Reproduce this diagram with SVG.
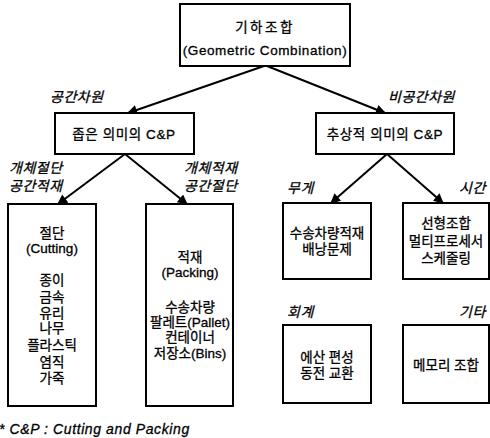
<svg xmlns="http://www.w3.org/2000/svg" width="490" height="438" viewBox="0 0 490 438">
<defs>
<style>
.box{fill:#fff;stroke:#000;stroke-width:2}
.t{font-family:"Liberation Sans","Noto Sans CJK KR",sans-serif;font-size:13.5px;fill:#000;stroke:#000;stroke-width:0.3;text-anchor:middle}
.l{font-family:"Liberation Sans","Noto Sans CJK KR",sans-serif;font-size:14px;fill:#000;stroke:#000;stroke-width:0.3;font-style:italic;letter-spacing:0.5px}
.c{stroke:#000;stroke-width:2;fill:none;marker-end:url(#ah)}
</style>
<marker id="ah" viewBox="0 0 10 10" refX="9" refY="5" markerWidth="5.5" markerHeight="5" markerUnits="strokeWidth" orient="auto">
<path d="M0,0 L10,5 L0,10 z" fill="#000"/>
</marker>
</defs>
<rect width="490" height="438" fill="#fff"/>
<g id="connectors">
<line class="c" x1="264" y1="66" x2="128" y2="113"/>
<line class="c" x1="267" y1="66" x2="385" y2="113"/>
<line class="c" x1="125" y1="154" x2="58" y2="204"/>
<line class="c" x1="125" y1="154" x2="187" y2="204"/>
<line class="c" x1="387" y1="154" x2="331" y2="203"/>
<line class="c" x1="387" y1="154" x2="443" y2="203"/>
</g>
<g id="labels">
<text class="l" x="50" y="102">공간차원</text>
<text class="l" x="388" y="102">비공간차원</text>
<text class="l" x="9" y="173">개체절단</text>
<text class="l" x="9" y="191">공간적재</text>
<text class="l" x="184" y="173">개체적재</text>
<text class="l" x="184" y="191">공간절단</text>
<text class="l" x="287" y="193">무게</text>
<text class="l" x="459" y="193">시간</text>
<text class="l" x="287" y="317">회계</text>
<text class="l" x="459" y="317">기타</text>
</g>
<g id="root">
<rect class="box" x="180" y="4" width="170" height="62"/>
<text class="t" x="265" y="32" style="letter-spacing:2.5px">기하조합</text>
<text class="t" x="265" y="55" style="letter-spacing:0.6px">(Geometric Combination)</text>
</g>
<g id="narrow">
<rect class="box" x="55" y="113" width="139" height="41"/>
<text class="t" x="124" y="139" style="letter-spacing:0.6px">좁은 의미의 C&amp;P</text>
</g>
<g id="abstract">
<rect class="box" x="316" y="113" width="138" height="41"/>
<text class="t" x="385" y="139" style="letter-spacing:0.6px">추상적 의미의 C&amp;P</text>
</g>
<g id="cutting">
<rect class="box" x="8" y="204" width="88" height="202"/>
<text class="t" x="52" y="238">절단</text>
<text class="t" x="52" y="253">(Cutting)</text>
<text class="t" x="52" y="285">종이</text>
<text class="t" x="52" y="302">금속</text>
<text class="t" x="52" y="318">유리</text>
<text class="t" x="52" y="333">나무</text>
<text class="t" x="52" y="350">플라스틱</text>
<text class="t" x="52" y="367">염직</text>
<text class="t" x="52" y="383">가죽</text>
</g>
<g id="packing">
<rect class="box" x="146" y="204" width="87" height="202"/>
<text class="t" x="190" y="262">적재</text>
<text class="t" x="190" y="277">(Packing)</text>
<text class="t" x="190" y="312">수송차량</text>
<text class="t" x="190" y="327">팔레트(Pallet)</text>
<text class="t" x="190" y="342">컨테이너</text>
<text class="t" x="190" y="358">저장소(Bins)</text>
</g>
<g id="weight">
<rect class="box" x="283" y="203" width="88" height="76"/>
<text class="t" x="327" y="238">수송차량적재</text>
<text class="t" x="327" y="254">배낭문제</text>
</g>
<g id="time">
<rect class="box" x="403" y="203" width="86" height="76"/>
<text class="t" x="446" y="228">선형조합</text>
<text class="t" x="446" y="246">멀티프로세서</text>
<text class="t" x="446" y="263">스케줄링</text>
</g>
<g id="accounting">
<rect class="box" x="283" y="325" width="88" height="78"/>
<text class="t" x="327" y="362">에산 편성</text>
<text class="t" x="327" y="378">동전 교환</text>
</g>
<g id="other">
<rect class="box" x="403" y="325" width="86" height="78"/>
<text class="t" x="446" y="370">메모리 조합</text>
</g>
<text class="l" x="-1" y="434" style="letter-spacing:0.6px">* C&amp;P : Cutting and Packing</text>
</svg>
